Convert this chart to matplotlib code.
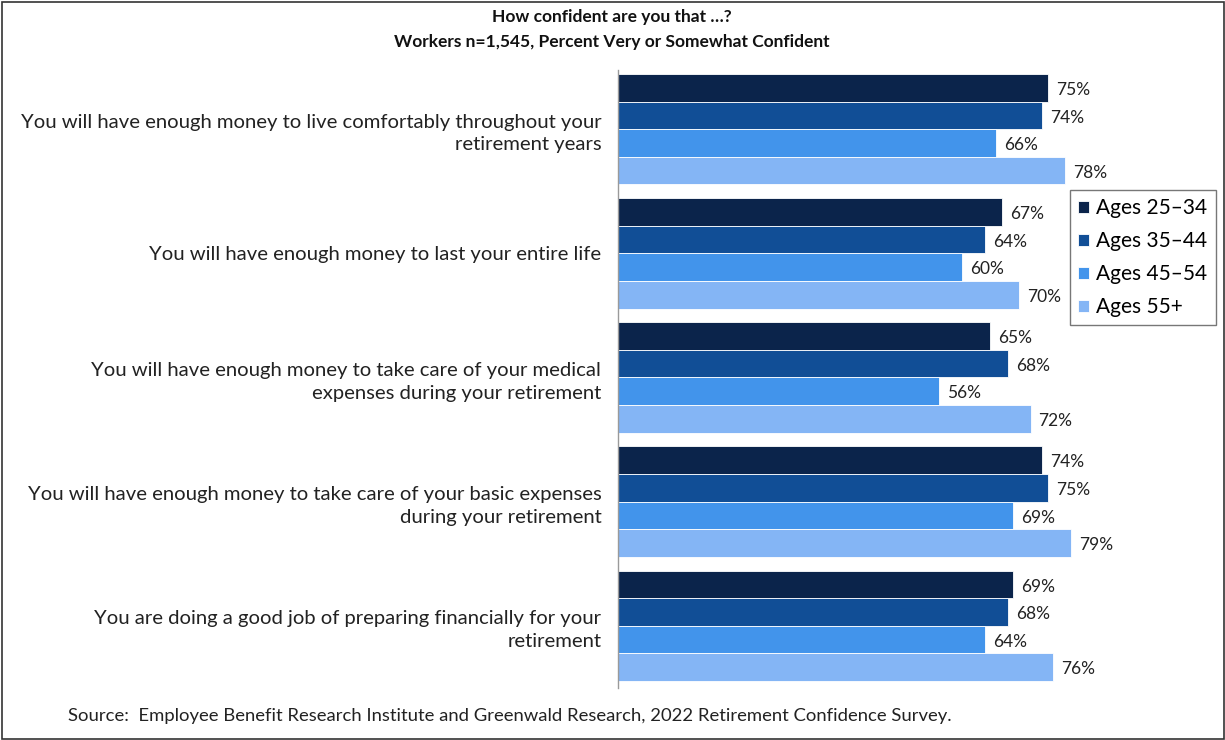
import matplotlib
matplotlib.use("Agg")
import matplotlib.pyplot as plt
from matplotlib.patches import Rectangle
import numpy as np

plt.rcParams['font.family'] = ['Lato', 'DejaVu Sans']

categories = [
    "You will have enough money to live comfortably throughout your\nretirement years",
    "You will have enough money to last your entire life",
    "You will have enough money to take care of your medical\nexpenses during your retirement",
    "You will have enough money to take care of your basic expenses\nduring your retirement",
    "You are doing a good job of preparing financially for your\nretirement",
]
series_names = ["Ages 25\u201334", "Ages 35\u201344", "Ages 45\u201354", "Ages 55+"]
ages_25_34 = [75, 67, 65, 74, 69]
ages_35_44 = [74, 64, 68, 75, 68]
ages_45_54 = [66, 60, 56, 69, 64]
ages_55_plus = [78, 70, 72, 79, 76]
colors = ["#0B244B", "#114E96", "#4294EB", "#84B5F5"]

title_lines = ["How confident are you that \u2026?",
               "Workers n=1,545, Percent Very or Somewhat Confident"]
source_text = ("Source:  Employee Benefit Research Institute and Greenwald Research, "
               "2022 Retirement Confidence Survey.")

W, H = 1225, 740
fig = plt.figure(figsize=(W / 100, H / 100), dpi=100)

# axes placement in pixel terms
ax_left, ax_top, ax_bottom = 618, 70, 688
px_per_unit = 5.73
ax_width_units = 100
ax = fig.add_axes([ax_left / W, 1 - ax_bottom / H,
                   ax_width_units * px_per_unit / W, (ax_bottom - ax_top) / H])

all_series = [ages_25_34, ages_35_44, ages_45_54, ages_55_plus]
group_pitch = 4.5
bar_h = 1.0
handles = []
for j, (vals, col, name) in enumerate(zip(all_series, colors, series_names)):
    ys = np.arange(len(categories)) * group_pitch + j + 0.5
    b = ax.barh(ys, vals, height=bar_h, color=col, edgecolor="white",
                linewidth=0.6, label=name)
    handles.append(b)
    for y, v in zip(ys, vals):
        ax.text(v + 1.4, y + 0.08, f"{v}%", va="center", ha="left",
                fontsize=12.5, color="#222222")

centers = np.arange(len(categories)) * group_pitch + 2.0
ax.set_yticks(centers)
ax.set_yticklabels(categories, fontsize=14.6, color="#222222",
                   linespacing=1.4, ha="right")
ax.tick_params(axis="y", length=0, pad=12)
ax.set_xticks([])
ax.set_xlim(0, ax_width_units)
ax.set_ylim(22 + 0.254, -0.145)
for s in ["top", "right", "bottom"]:
    ax.spines[s].set_visible(False)
ax.spines["left"].set_color("#9a9a9a")
ax.spines["left"].set_linewidth(1.0)

leg = fig.legend(handles=handles, labels=series_names,
                 loc="upper left", bbox_to_anchor=(1070 / W, 1 - 190 / H),
                 fontsize=15, frameon=True, fancybox=False, edgecolor="#555555",
                 handlelength=0.5, handleheight=0.5, handletextpad=0.35,
                 labelspacing=0.62, borderpad=0.4, borderaxespad=0)
leg.get_frame().set_linewidth(1.0)

fig.text(612 / W, 1 - 17 / H, title_lines[0], ha="center", va="center",
         fontsize=12.5, fontweight="bold", color="#111111")
fig.text(612 / W, 1 - 42 / H, title_lines[1], ha="center", va="center",
         fontsize=12.5, fontweight="bold", color="#111111")
fig.text(68 / W, 1 - 716 / H, source_text, ha="left", va="center",
         fontsize=13.3, color="#222222")

fig.patches.append(Rectangle((1.5 / W, 1.5 / H), (W - 3) / W, (H - 3) / H,
                             transform=fig.transFigure, fill=False,
                             edgecolor="#333333", linewidth=1.2))

fig.savefig("out.png", dpi=100)
